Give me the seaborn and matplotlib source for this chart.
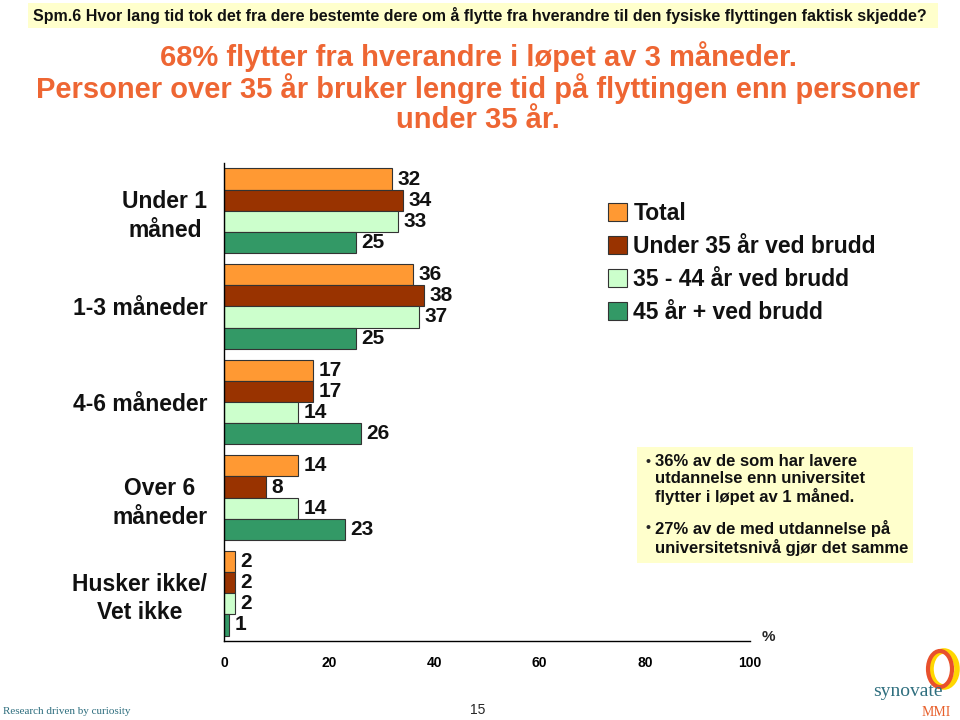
import matplotlib
matplotlib.use("Agg")
import matplotlib.pyplot as plt
from matplotlib.patches import Rectangle, Ellipse
import seaborn as sns
import pandas as pd

categories = ["Under 1\nmåned", "1-3 måneder", "4-6 måneder", "Over 6\nmåneder", "Husker ikke/\nVet ikke"]
series_names = ["Total", "Under 35 år ved brudd", "35 - 44 år ved brudd", "45 år + ved brudd"]
total = [32, 36, 17, 14, 2]
under35 = [34, 38, 17, 8, 2]
age35_44 = [33, 37, 14, 14, 2]
age45 = [25, 25, 26, 23, 1]
colors = ["#FF9933", "#993300", "#CCFFCC", "#339966"]
xticks = [0, 20, 40, 60, 80, 100]

rows = []
for name, vals in zip(series_names, [total, under35, age35_44, age45]):
    for c, v in zip(categories, vals):
        rows.append({"cat": c, "series": name, "value": v})
df = pd.DataFrame(rows)

sns.set_style("white")
plt.rcParams["font.family"] = ["Liberation Sans", "DejaVu Sans"]

fig = plt.figure(figsize=(9.6, 7.2), dpi=100)
ax = fig.add_axes([224/960, 1-641/720, (750-224)/960, (641-163)/720])

sns.barplot(data=df, y="cat", x="value", hue="series", order=categories,
            hue_order=series_names, palette=colors, orient="h", width=0.885,
            edgecolor="#333333", linewidth=0.8, saturation=1, ax=ax, errorbar=None)

for cont in ax.containers:
    ax.bar_label(cont, fmt="%d", padding=4, fontsize=15, fontweight="bold", color="#111111")

ax.set_xlim(0, 100)
ax.set_ylim(4.5, -0.5)
ax.set_xticks(xticks)
ax.set_xticklabels([str(t) for t in xticks], fontsize=10, fontweight="bold")
ax.tick_params(axis="x", direction="in", length=4, pad=11, colors="black")
ax.set_yticks(range(len(categories)))
ax.set_yticklabels(categories, fontsize=16.5, fontweight="bold", color="#111111")
for lab in ax.get_yticklabels():
    lab.set_multialignment("center")
    lab.set_linespacing(1.3)
ax.tick_params(axis="y", which="major", length=0, pad=12)
ax.set_yticks([i - 0.5 for i in range(len(categories) + 1)], minor=True)
ax.tick_params(axis="y", which="minor", length=6, direction="out", color="black")
ax.set_xlabel("")
ax.set_ylabel("")
for s in ["top", "right"]:
    ax.spines[s].set_visible(False)
for s in ["left", "bottom"]:
    ax.spines[s].set_color("black")
    ax.spines[s].set_linewidth(1.0)

handles, labels = ax.get_legend_handles_labels()
ax.get_legend().remove()
leg = fig.legend(handles, labels, loc="upper left", bbox_to_anchor=(599/960, 1-193/720),
                 frameon=False, prop={"size": 16.5, "weight": "bold"}, handlelength=0.8,
                 handleheight=0.8, handletextpad=0.3, labelspacing=0.43, borderaxespad=0)
for t in leg.get_texts():
    t.set_color("#111111")

ax.text(768/960, 1-637/720, "%", transform=fig.transFigure, fontsize=11, fontweight="bold",
        ha="center", va="center")

# header band
fig.patches.append(Rectangle((28/960, 1-28/720), 910/960, 25/720, transform=fig.transFigure,
                             facecolor="#FFFFCC", edgecolor="none", zorder=0))
fig.text(480/960, 1-15/720, "Spm.6 Hvor lang tid tok det fra dere bestemte dere om å flytte fra hverandre til den fysiske flyttingen faktisk skjedde?",
         ha="center", va="center", fontsize=11.5, fontweight="bold", color="#111111")

title_color = "#EE6633"
fig.text(478/960, 1-57/720, "68% flytter fra hverandre i løpet av 3 måneder.", ha="center", va="center",
         fontsize=21, fontweight="bold", color=title_color)
fig.text(478/960, 1-89/720, "Personer over 35 år bruker lengre tid på flyttingen enn personer", ha="center",
         va="center", fontsize=21, fontweight="bold", color=title_color)
fig.text(478/960, 1-120/720, "under 35 år.", ha="center", va="center", fontsize=21,
         fontweight="bold", color=title_color)

# annotation box
fig.patches.append(Rectangle((637/960, 1-563/720), 276/960, 116/720, transform=fig.transFigure,
                             facecolor="#FFFFCC", edgecolor="none", zorder=0))
fig.text(646/960, 1-462/720, "•", fontsize=10, va="center", ha="left", fontweight="bold")
fig.text(655/960, 1-454/720, "36% av de som har lavere\nutdannelse enn universitet\nflytter i løpet av 1 måned.",
         fontsize=12, va="top", ha="left", fontweight="bold", linespacing=1.17, color="#111111")
fig.text(646/960, 1-528/720, "•", fontsize=10, va="center", ha="left", fontweight="bold")
fig.text(655/960, 1-520/720, "27% av de med utdannelse på\nuniversitetsnivå gjør det samme",
         fontsize=12, va="top", ha="left", fontweight="bold", linespacing=1.17, color="#111111")

# footer
fig.text(3/960, 1-712/720, "Research driven by curiosity", fontsize=8, family="Liberation Serif",
         color="#2E6E7E", va="center", ha="left")
fig.text(478/960, 1-710/720, "15", fontsize=10, va="center", ha="center")
fig.text(908/960, 1-692/720, "synovate", fontsize=14, family="Liberation Serif",
         color="#2E6E7E", va="center", ha="center")
fig.text(936/960, 1-712/720, "MMI", fontsize=10, family="Liberation Serif",
         color="#E8602C", va="center", ha="center")
fig.patches.append(Ellipse((944/960, 1-669/720), 26/960, 36/720, transform=fig.transFigure,
                           facecolor="none", edgecolor="#FFD700", linewidth=4))
fig.patches.append(Ellipse((940/960, 1-669/720), 24/960, 36/720, transform=fig.transFigure,
                           facecolor="none", edgecolor="#E8502C", linewidth=3))

fig.savefig("out.png", dpi=100)
